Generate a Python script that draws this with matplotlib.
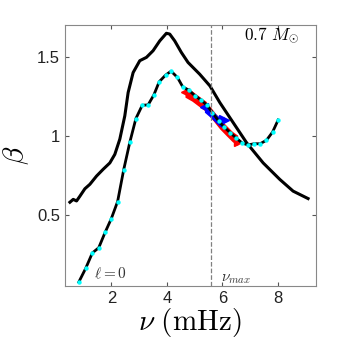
import matplotlib
matplotlib.use("Agg")
import matplotlib.pyplot as plt
import numpy as np

plt.rcParams['mathtext.fontset'] = 'cm'
plt.rcParams['font.family'] = ['Liberation Sans', 'DejaVu Sans']

# full beta curve (solid black)
nu_full = [0.50, 0.62, 0.74, 0.86, 1.04, 1.22, 1.46, 1.70, 1.94, 2.12, 2.30, 2.48,
           2.60, 2.78, 3.02, 3.26, 3.50, 3.74, 3.98, 4.10, 4.28, 4.52, 4.76, 5.18,
           5.55, 5.91, 6.39, 6.87, 7.47, 8.07, 8.55, 9.09]
beta_full = [0.582, 0.60, 0.59, 0.62, 0.667, 0.695, 0.747, 0.79, 0.83, 0.884, 0.98, 1.127,
             1.274, 1.40, 1.475, 1.496, 1.538, 1.60, 1.648, 1.643, 1.60, 1.527, 1.464, 1.39,
             1.316, 1.21, 1.084, 0.958, 0.83, 0.726, 0.652, 0.605]

# l=0 modes (black line + cyan dots)
nu_l0 = [0.82, 1.07, 1.31, 1.54, 1.77, 1.99, 2.22, 2.44, 2.66, 2.88, 3.11, 3.32,
         3.53, 3.72, 3.95, 4.15, 4.38, 4.57, 4.79, 5.00, 5.22, 5.43, 5.64, 5.86,
         6.07, 6.28, 6.48, 6.71, 6.92, 7.14, 7.36, 7.59, 7.81, 8.01]
beta_l0 = [0.078, 0.165, 0.262, 0.295, 0.392, 0.477, 0.586, 0.787, 0.96, 1.11, 1.194, 1.196,
           1.26, 1.342, 1.384, 1.409, 1.369, 1.31, 1.289, 1.255, 1.228, 1.196, 1.148, 1.095,
           1.055, 1.021, 0.99, 0.956, 0.943, 0.951, 0.951, 0.973, 1.025, 1.101]

# observed bands
nu_red = [4.65, 4.9, 5.15, 5.4, 5.65, 5.9, 6.15, 6.35, 6.55]
beta_red = [1.28, 1.255, 1.222, 1.19, 1.135, 1.08, 1.035, 1.0, 0.975]
nu_blue = [5.35, 5.55, 5.75, 5.95, 6.05]
beta_blue = [1.18, 1.15, 1.115, 1.085, 1.10]

nu_max = 5.6

fig = plt.figure(figsize=(3.49, 3.43), dpi=100)
ax = fig.add_axes([0.186, 0.166, 0.719, 0.761])

ax.fill_between(nu_red, np.array(beta_red) - 0.035, np.array(beta_red) + 0.03,
                color='red', lw=0)
ax.plot([nu_red[0]], [beta_red[0]], marker='<', color='red', ms=6)
ax.plot([nu_red[-1]], [beta_red[-1] - 0.01], marker='>', color='red', ms=6)
ax.fill_between(nu_blue, np.array(beta_blue) - 0.03, np.array(beta_blue) + 0.025,
                color='blue', lw=0)
ax.plot([nu_blue[0]], [beta_blue[0]], marker='<', color='blue', ms=6)
ax.plot([nu_blue[-1]], [beta_blue[-1]], marker='>', color='blue', ms=7)

ax.plot(nu_full, beta_full, color='black', lw=2.2)
ax.plot(nu_l0, beta_l0, color='black', lw=2.0)
ax.plot(nu_l0, beta_l0, ls='none', marker='o', ms=3.2, color='cyan', mec='none')

ax.axvline(nu_max, color='gray', ls='--', lw=0.9)

ax.text(1.37, 0.1, r'$\ell=0$', fontsize=11, color='#333333')
ax.text(5.95, 0.08, r'$\nu_{max}$', fontsize=11, color='#333333')
ax.text(7.78, 1.61, r'$0.7\ M_{\odot}$', fontsize=12.5, ha='center')

ax.set_xlim(0.32, 9.37)
ax.set_ylim(0.053, 1.70)
ax.set_xticks([2, 4, 6, 8])
ax.set_yticks([0.5, 1, 1.5])
ax.set_yticklabels(['0.5', '1', '1.5'])
ax.tick_params(direction='in', top=True, right=True, labelsize=12, length=3,
               color='#555555', labelcolor='#222222')
for s in ax.spines.values():
    s.set_color('#888888')
    s.set_linewidth(0.8)

ax.set_xlabel(r'$\nu\ \mathrm{(mHz)}$', fontsize=21, labelpad=0)
ax.set_ylabel(r'$\beta$', fontsize=21, labelpad=4)

fig.savefig('out.png', dpi=100)
